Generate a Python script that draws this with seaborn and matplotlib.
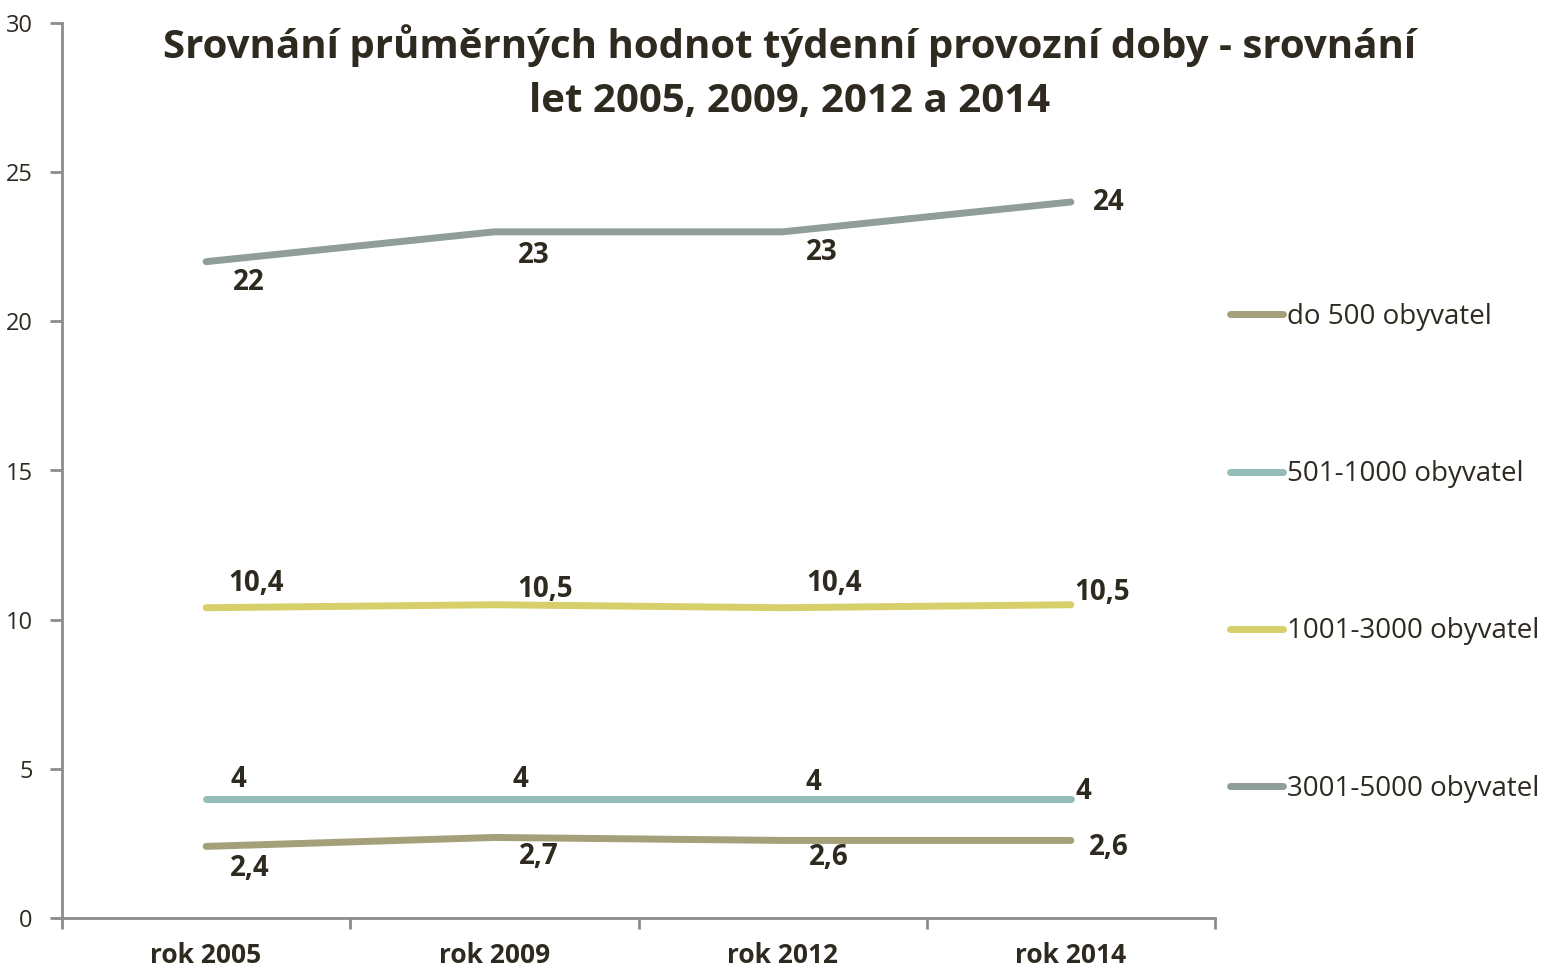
import matplotlib
matplotlib.use("Agg")
import matplotlib.pyplot as plt
import seaborn as sns
import pandas as pd

years = ["rok 2005", "rok 2009", "rok 2012", "rok 2014"]
series_names = ["do 500 obyvatel", "501-1000 obyvatel", "1001-3000 obyvatel", "3001-5000 obyvatel"]
do_500 = [2.4, 2.7, 2.6, 2.6]
od_501 = [4, 4, 4, 4]
od_1001 = [10.4, 10.5, 10.4, 10.5]
od_3001 = [22, 23, 23, 24]
colors = ["#A3A07A", "#96BCBA", "#D6CF6A", "#909E98"]

# label offsets in pixels (dx, dy), per series and year
offsets = [
    [(44, -22), (44, -19), (46, -17), (38, -7)],
    [(32, 19), (26, 19), (31, 16), (13, 7)],
    [(50, 24), (51, 15), (51, 24), (31, 12)],
    [(43, -21), (39, -24), (39, -21), (38, -1)],
]

rows = []
for name, vals in zip(series_names, [do_500, od_501, od_1001, od_3001]):
    for y, v in zip(years, vals):
        rows.append({"rok": y, "hodnota": v, "skupina": name})
df = pd.DataFrame(rows)

sns.set_style("white")
plt.rcParams["font.family"] = ["Open Sans", "DejaVu Sans"]
text_col = "#2E2A20"
axis_col = "#8C8C8C"

fig = plt.figure(figsize=(15.48, 9.72), dpi=100)
ax = fig.add_axes([62 / 1548, 54 / 972, (1215 - 62) / 1548, (918 - 23) / 972])

sns.lineplot(data=df, x="rok", y="hodnota", hue="skupina", hue_order=series_names,
             palette=colors, linewidth=5, ax=ax, legend=False,
             solid_capstyle="round", sort=False)

for i, name in enumerate(series_names):
    vals = df[df["skupina"] == name]["hodnota"].tolist()
    for j, v in enumerate(vals):
        lbl = f"{v:g}".replace(".", ",")
        ax.annotate(lbl, (j, v), xytext=offsets[i][j], textcoords="offset pixels",
                    ha="center", va="center", fontsize=20, fontweight="bold", color=text_col)

ax.set_ylim(0, 30)
ax.set_yticks(range(0, 31, 5))
ax.set_xlim(-0.5, 3.5)
ax.set_xticks([-0.5, 0.5, 1.5, 2.5, 3.5])
ax.set_xticklabels([])
ax.set_xticks(range(4), minor=True)
ax.set_xticklabels(years, minor=True, fontsize=19, fontweight="bold", color=text_col)
ax.tick_params(axis="x", which="minor", bottom=True, length=0, pad=17)
ax.tick_params(axis="x", which="major", bottom=True, length=8, width=2, color=axis_col, direction="out")
ax.tick_params(axis="y", left=True, length=9, width=2, color=axis_col, labelsize=17,
               labelcolor=text_col, pad=12)
ax.set_xlabel("")
ax.set_ylabel("")
sns.despine(ax=ax)
for s in ["left", "bottom"]:
    ax.spines[s].set_color(axis_col)
    ax.spines[s].set_linewidth(2)

fig.text(790 / 1548, 1 - 73 / 972,
         "Srovnání průměrných hodnot týdenní provozní doby - srovnání\nlet 2005, 2009, 2012 a 2014",
         ha="center", va="center", fontsize=29, fontweight="bold", color=text_col, linespacing=1.5)

handles = [plt.Line2D([], [], color=c, linewidth=5, solid_capstyle="round") for c in colors]
leg = fig.legend(handles, series_names, loc="upper left", bbox_to_anchor=(1219 / 1548, 1 - 292 / 972),
                 frameon=False, fontsize=20, labelspacing=4.65, handlelength=1.9, handletextpad=0.15,
                 borderaxespad=0)
for t in leg.get_texts():
    t.set_color(text_col)

fig.savefig("out.png", dpi=100, facecolor="white")
